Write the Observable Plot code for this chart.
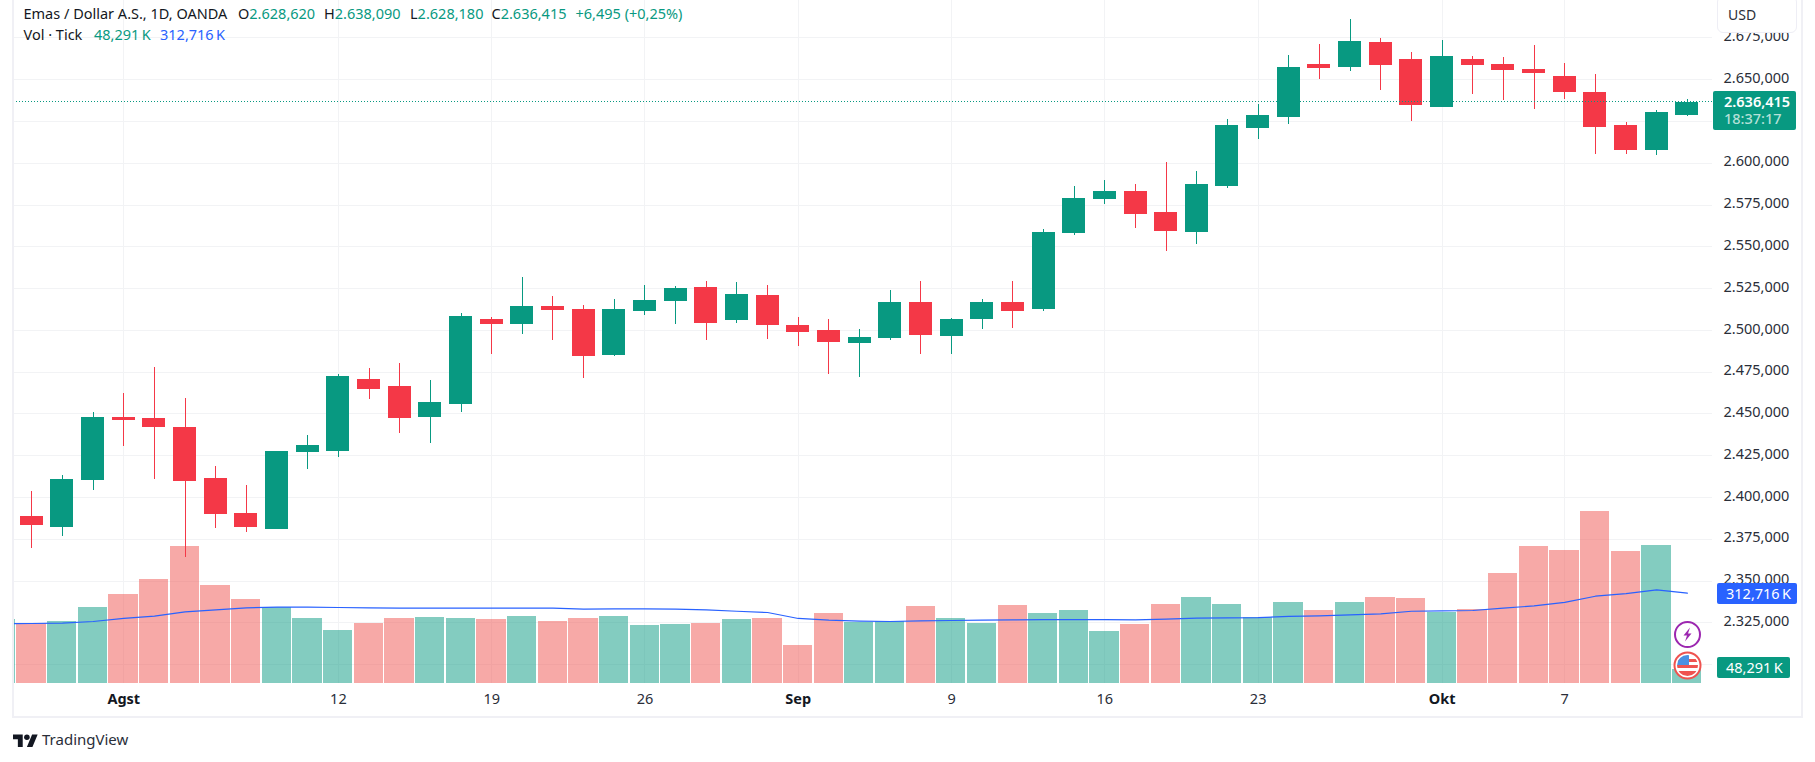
<!DOCTYPE html>
<html>
<head>
<meta charset="utf-8">
<script src="https://cdn.jsdelivr.net/npm/d3@7"></script>
<script src="https://cdn.jsdelivr.net/npm/@observablehq/plot@0.6"></script>
<style>
html,body{margin:0;padding:0;background:#fff;width:1815px;height:762px;overflow:hidden}
body{position:relative;font-family:"Noto Sans",sans-serif;color:#131722}
#chart{position:absolute;left:0;top:0}
#chart svg{display:block;background:transparent}
.abs{position:absolute;white-space:nowrap}
.hdr{font-size:14.5px;line-height:18px}
.tag{position:absolute;color:#fff;border-radius:2px;font-size:14.5px;white-space:nowrap}
.frame{position:absolute;background:#f0f0f5}
</style>
</head>
<body>
<div id="chart"></div>
<script>
// Sessions 29 Jul - 11 Oct, XAU/USD daily
const opens = [2388.9,2382.3,2410.4,2448.1,2447.5,2442.2,2411.6,2390.7,2381.1,2427.2,2427.8,2470.9,2466.7,2448.1,2455.9,2506.8,2503.5,2514.3,2512.5,2485,2511.3,2517.3,2525.7,2505.9,2520.9,2502.9,2499.9,2492.2,2495.1,2516.9,2496.5,2506.7,2516.9,2512.7,2558.2,2578.5,2583.3,2570.7,2558.8,2586.3,2621,2627.6,2659.2,2657.4,2672.3,2662.2,2633.4,2662.2,2659.2,2656.2,2652,2642.4,2622.7,2607.7,2628.62];
const highs = [2403.9,2413.4,2451.1,2462.5,2478.1,2459.5,2418.8,2407.4,2427.8,2437.4,2473.9,2477.5,2480.5,2470.3,2510.4,2508,2531.6,2520.3,2514.9,2518.5,2526.9,2526.3,2529.3,2528.7,2526.9,2507.7,2506.5,2500.5,2523.9,2529.4,2507.3,2518.7,2529.4,2560.6,2586.3,2589.9,2587.5,2600.7,2595.3,2626.4,2635.4,2664.5,2671.1,2686.1,2674.7,2666.4,2673.5,2664,2663.4,2670.5,2659.8,2653.2,2624.5,2631.6,2638.09];
const lows = [2369.7,2376.9,2404.4,2430.8,2411,2364.4,2381.7,2379.3,2381.1,2417,2424.2,2458.9,2438.6,2432.6,2451.1,2485.8,2497.5,2494,2471.2,2484.4,2508.9,2503.5,2494,2504.1,2494.5,2490.4,2473.6,2471.8,2494,2485.8,2485.8,2500.7,2501.3,2511.5,2557,2575.5,2561.2,2547.4,2551.6,2585.1,2614.4,2623.4,2650.2,2655,2643.6,2625.1,2633.4,2641.2,2637.6,2632.2,2638.2,2605.3,2605.3,2604.7,2628.18];
const closes = [2383.5,2411,2448.1,2446.3,2442.2,2409.8,2390.1,2382.3,2427.8,2431.4,2472.7,2464.9,2447.5,2457.1,2508.6,2503.8,2514.3,2511.9,2484.4,2512.5,2517.9,2525.1,2504.1,2521.5,2502.9,2498.7,2492.7,2495.7,2516.7,2497.1,2506.7,2516.9,2511.5,2558.8,2579.1,2583.3,2569.5,2559.4,2587.5,2622.8,2628.8,2657.5,2656.8,2672.9,2658.6,2634.6,2664,2658.6,2655.6,2653.8,2642.4,2621.5,2607.7,2630.5,2636.415];
// Tick volume in thousands; first entry belongs to the session just off the left edge
const volumes = [221,207.6,214.5,263,308,360,474,339,290.6,263,225,183,207.6,225,228,225,221,232,214.5,225,232,200.6,204,207.6,221,225,131,242,211,214.5,266,225,207.6,270,242,252.5,180,204,273,297.5,273,229.4,280,252.5,280,297.5,294,245.6,255,380.5,474,460,595,456.6,477,48.291];
const volumeUp = [1,0,1,1,0,0,0,0,0,1,1,1,0,0,1,1,0,1,0,0,1,1,1,0,1,0,0,0,1,1,0,1,1,0,1,1,1,0,0,1,1,1,1,0,1,0,0,1,0,0,0,0,0,0,1,1];
const volumeMA = [207,207.6,208.7,214.5,225,233,248,255,262,264,264,263,262,260.6,260.6,260.6,260.6,260.6,260.6,257,258,258,257,255,250,245.6,225,219,215.6,214.5,217,218,219,220,221,221,221,220,222.5,226,227,228,232,234,237.5,241,250,251,252.5,260.6,268.6,281,302,311,324,312.716];
const priceTicks = [2300,2325,2350,2375,2400,2425,2450,2475,2500,2525,2550,2575,2600,2625,2650,2675];
// 2.625,000 sits entirely behind the live price tag, so it has no label
const priceLabels = priceTicks.filter(p => p !== 2625);
const dayTickIndex = [10,15,20,30,35,40,50];
const dayTickLabels = ["12","19","26","9","16","23","7"];
const monthTickIndex = [3,25,46];
const monthTickLabels = ["Agst","Sep","Okt"];
const lastPrice = 2636.415;
const lastVolume = 48.291;
const lastMA = 312.716;

const UP = "#089981", DOWN = "#f43847", VUP = "rgba(8,153,129,.5)", VDOWN = "rgba(239,83,80,.5)", BLUE = "#2962ff", GRID = "#f2f3f5";
const crisp = {shapeRendering: "crispEdges"};

const candles = opens.map((o, i) => ({i, o, h: highs[i], l: lows[i], c: closes[i]}));
const upC = candles.filter(d => d.c >= d.o), downC = candles.filter(d => d.c < d.o);
const vols = volumes.map((v, k) => ({i: k - 1, v, ma: volumeMA[k], up: volumeUp[k]}));

// The volume pane shares the frame with the price pane: 1 K of volume spans this many price units
const paneBase = 2288.7, perK = 0.17296;
const toPane = v => paneBase + v * perK;
const priceFmt = d3.formatLocale({decimal: ",", thousands: ".", grouping: [3]}).format(",.3f");
const dayLabel = d3.scaleOrdinal(dayTickIndex, dayTickLabels);
const monthLabel = d3.scaleOrdinal(monthTickIndex, monthTickLabels);

const volMark = (rows, fill) => Plot.rect(rows, {x1: d => d.i - 0.485, x2: d => d.i + 0.47, y1: paneBase, y2: d => toPane(d.v), fill, clip: true, ...crisp});
const bodyMark = (rows, fill) => Plot.rect(rows, {x1: d => d.i - 0.375, x2: d => d.i + 0.375, y1: d => d.o, y2: d => d.c, fill, ...crisp});
const wickMark = (rows, stroke) => Plot.ruleX(rows, {x: "i", y1: "l", y2: "h", stroke, strokeWidth: 1, ...crisp});

const chart = Plot.plot({
  width: 1815, height: 718,
  marginTop: 0, marginLeft: 13, marginRight: 103, marginBottom: 35,
  style: {fontFamily: '"Noto Sans",sans-serif', fontSize: "14.5px", color: "#2a2e39", background: "transparent"},
  x: {type: "linear", domain: [-0.597, 54.82]},
  y: {type: "linear", domain: [paneBase, 2697.44]},
  marks: [
    Plot.gridY(priceTicks, {stroke: GRID, strokeOpacity: 1, strokeWidth: 1, ...crisp}),
    Plot.gridX([...dayTickIndex, ...monthTickIndex], {stroke: GRID, strokeOpacity: 1, strokeWidth: 1, ...crisp}),
    volMark(vols.filter(d => d.up), VUP),
    volMark(vols.filter(d => !d.up), VDOWN),
    Plot.lineY(vols, {x: "i", y: d => toPane(d.ma), stroke: BLUE, strokeWidth: 1.2, curve: "linear", clip: true}),
    wickMark(upC, UP), wickMark(downC, DOWN),
    bodyMark(upC, UP), bodyMark(downC, DOWN),
    Plot.ruleY([lastPrice], {stroke: UP, strokeWidth: 1, strokeDasharray: "1,2", dy: -1, ...crisp}),
    Plot.axisY(priceLabels, {anchor: "right", tickSize: 0, tickPadding: 11, tickFormat: priceFmt, label: null, fill: "#2a2e39", dy: -1.5}),
    Plot.axisX(dayTickIndex, {anchor: "bottom", tickSize: 0, tickPadding: 10, tickFormat: i => dayLabel(i), label: null, fill: "#2a2e39"}),
    Plot.axisX(monthTickIndex, {anchor: "bottom", tickSize: 0, tickPadding: 10, tickFormat: i => monthLabel(i), label: null, fill: "#131722", fontWeight: "bold"})
  ]
});
document.getElementById("chart").appendChild(chart);

const y = v => chart.scale("y").apply(v);
const add = (html) => document.body.insertAdjacentHTML("beforeend", html);
const G = s => `<span style="color:${UP}">${s}</span>`;

// Frame of the chart area
add(`<div class="frame" style="left:12px;top:0;width:2px;height:718px"></div>
<div class="frame" style="left:1801px;top:0;width:2px;height:718px"></div>
<div class="frame" style="left:12px;top:716px;width:1791px;height:2px"></div>`);

// Legend
add(`<div class="abs hdr" style="left:23.5px;top:4px">Emas / Dollar A.S., 1D, OANDA</div>
<div class="abs hdr" style="left:238px;top:4px">O${G("2.628,620")}</div>
<div class="abs hdr" style="left:324px;top:4px">H${G("2.638,090")}</div>
<div class="abs hdr" style="left:410px;top:4px">L${G("2.628,180")}</div>
<div class="abs hdr" style="left:491.5px;top:4px">C${G("2.636,415")}</div>
<div class="abs hdr" style="left:575.5px;top:4px">${G("+6,495 (+0,25%)")}</div>
<div class="abs hdr" style="left:23.5px;top:25px">Vol · Tick</div>
<div class="abs hdr" style="left:94px;top:25px">${G("48,291\u2009K")}</div>
<div class="abs hdr" style="left:160px;top:25px;color:${BLUE}">312,716\u2009K</div>`);

// Currency button
add(`<div class="abs" style="left:1717px;top:-4px;width:78px;height:35px;background:#fff;border:1.5px solid #eeeef5;border-radius:6px;font-size:14px;line-height:36px;text-indent:10px;color:#2a2e39">USD</div>`);

// Price and volume tags follow the chart's scales
const py = y(lastPrice);
add(`<div class="tag" style="left:1713px;top:${py - 11}px;width:83px;height:39px;background:${UP};font-weight:600">
<div style="position:absolute;left:11px;top:0;line-height:20px">${priceFmt(lastPrice)}</div>
<div style="position:absolute;left:11px;top:18px;line-height:19px;color:#b5e0d8;font-weight:500">18:37:17</div></div>`);
add(`<div class="tag" style="left:1717px;top:${y(toPane(lastMA)) - 10}px;width:80px;height:21px;line-height:21px;background:${BLUE};text-indent:9px">312,716\u2009K</div>`);
add(`<div class="tag" style="left:1717px;top:${y(toPane(lastVolume)) - 12}px;width:73px;height:21px;line-height:21px;background:${UP};text-indent:9px">48,291\u2009K</div>`);

// Event badges
add(`<svg class="abs" style="left:1673px;top:620px" width="29" height="29" viewBox="0 0 29 29">
<circle cx="14.5" cy="14.5" r="12.5" fill="#fff" stroke="#9c27b0" stroke-width="2"/>
<path d="M17 7.5 L10.5 15.5 H14 L12 21.5 L18.5 13.5 H15 Z" fill="#9c27b0"/></svg>
<svg class="abs" style="left:1673px;top:651px" width="29" height="29" viewBox="0 0 29 29">
<defs><clipPath id="fl"><circle cx="14.5" cy="14.5" r="10.5"/></clipPath></defs>
<circle cx="14.5" cy="14.5" r="13" fill="#fff" stroke="#ef5350" stroke-width="2"/>
<g clip-path="url(#fl)"><rect x="4" y="4" width="21" height="21" fill="#fff"/>
<rect x="4" y="8" width="21" height="3" fill="#ef5350"/><rect x="4" y="14" width="21" height="3" fill="#ef5350"/><rect x="4" y="20" width="21" height="5" fill="#ef5350"/>
<rect x="4" y="4" width="12" height="10" fill="#4a90e2"/></g></svg>`);

// Attribution below the chart
add(`<svg class="abs" style="left:13px;top:733px" width="25" height="14" viewBox="0 0 36 20"><path fill="#131722" d="M14 20H7V9H0V2h14v18zM28 20h-8l7.5-18h8L28 20z"/><circle fill="#131722" cx="20" cy="6" r="4"/></svg>
<div class="abs" style="left:42px;top:728px;font-size:15px;line-height:22px;color:#2a2e39">TradingView</div>`);
</script>
</body>
</html>
